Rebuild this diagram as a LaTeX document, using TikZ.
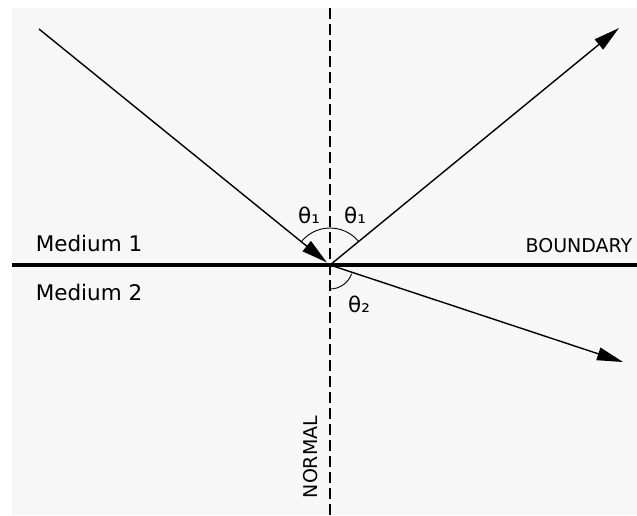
\documentclass[tikz,border=0pt]{standalone}
\usepackage{fontspec}
\setmainfont{DejaVu Sans}
\usetikzlibrary{arrows.meta,calc}
\definecolor{bg}{HTML}{F7F7F7}
\tikzset{
  ray/.style={line width=1.4pt, -{Triangle[length=26pt,width=13pt]}},
  lbl/.style={inner sep=0pt, font=\fontsize{21.5}{24}\selectfont},
  smalllbl/.style={inner sep=0pt, font=\fontsize{19}{22}\selectfont},
  anglearc/.style={line width=0.9pt},
}
\begin{document}
\begin{tikzpicture}[x=1pt,y=-1pt]
\useasboundingbox (0,0) rectangle (637,515);
\fill[bg] (12,8) rectangle (637,515);
\coordinate (O) at (330,265);
\coordinate (O2) at (330,266);
\coordinate (A) at (39,29);
\coordinate (R) at (619,28);
\coordinate (T) at (623,362);
\coordinate (Ntop) at (330,8);
\coordinate (Nbot) at (330,515);
\coordinate (Bl) at (12,265);
\coordinate (Br) at (637,265);
% normal
\draw[line width=1.4pt, dash pattern=on 11pt off 5pt] (Ntop) -- (Nbot);
% boundary
\draw[line width=4.5pt] (Bl) -- (Br);
% rays
\draw[ray, shorten >=4pt] (A) -- (O);
\draw[ray] (O) -- (R);
\draw[ray, shorten <=4pt] (O) -- (T);
% arcs
\draw[anglearc] ($(O)+(141:37pt)$) arc[start angle=141, end angle=39.5, radius=37pt];
\draw[anglearc] ($(O2)+(-90:23pt)$) arc[start angle=-90, end angle=-20, radius=23pt];
% labels
\node[lbl] (m1) at (89,243) {Medium 1};
\node[lbl] (m2) at (89,292) {Medium 2};
\node[smalllbl] (bd) at (579,245.5) {BOUNDARY};
\node[smalllbl, rotate=90] (nm) at (311,457) {NORMAL};
\node[lbl] (t1a) at (309,215) {θ₁};
\node[lbl] (t1b) at (355,215) {θ₁};
\node[lbl] (t2) at (359,304) {θ₂};
\end{tikzpicture}
\end{document}
